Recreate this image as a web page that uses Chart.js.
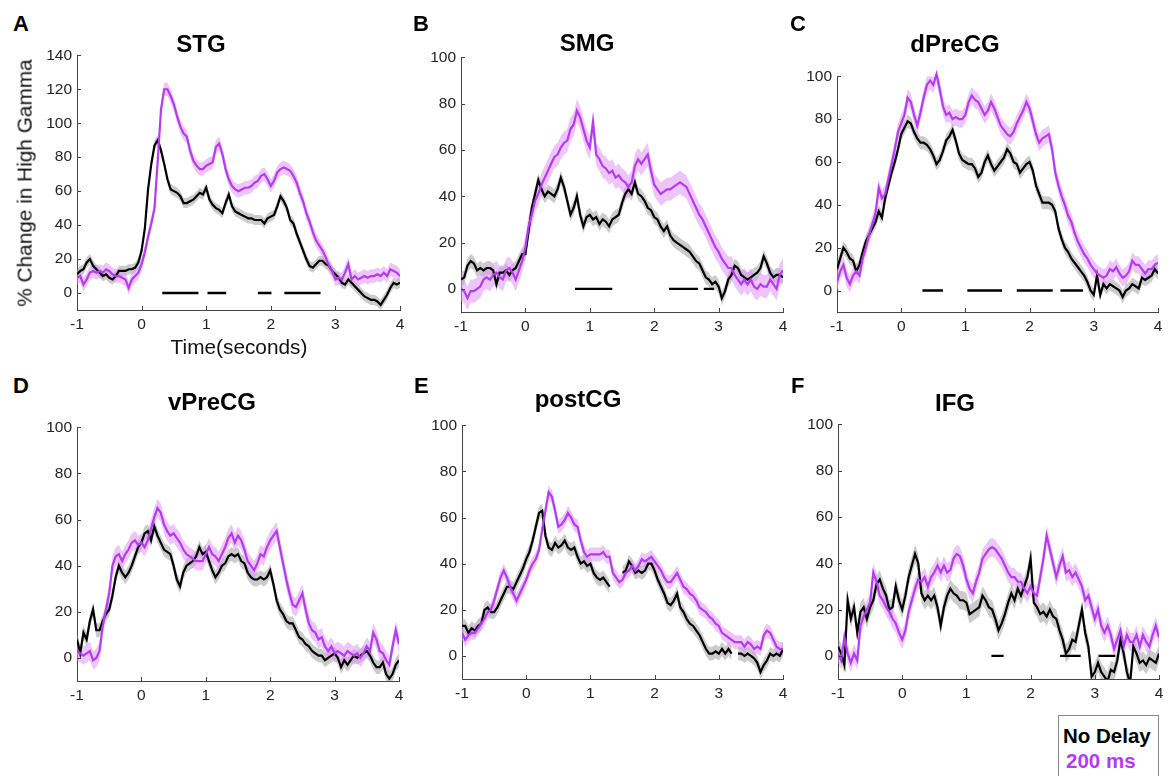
<!DOCTYPE html>
<html><head><meta charset="utf-8">
<script src="https://cdn.jsdelivr.net/npm/chart.js@4/dist/chart.umd.min.js"></script>
<style>
html,body{margin:0;padding:0;background:#fff;}
body{width:1175px;height:776px;position:relative;overflow:hidden;font-family:"Liberation Sans",Arial,Helvetica,sans-serif;color:#000;}
canvas{position:absolute;}
.t{position:absolute;white-space:nowrap;line-height:1;}
.letter{font-weight:bold;font-size:22px;}
.ptitle{font-weight:bold;font-size:24px;transform:translate(-50%,-50%);}
.axt{font-size:20.8px;color:#111;transform:translate(-50%,-50%);}
#legend{position:absolute;left:1058px;top:715px;width:99px;height:70px;border:1.5px solid #888;background:#fff;}
</style></head><body>
<script>
// ---------- DATA ----------
const time = [-1,-0.95,-0.9,-0.85,-0.8,-0.75,-0.7,-0.65,-0.6,-0.55,-0.5,-0.45,-0.4,-0.35,-0.3,-0.25,-0.2,-0.15,-0.1,-0.05,0,0.05,0.1,0.15,0.2,0.25,0.3,0.35,0.4,0.45,0.5,0.55,0.6,0.65,0.7,0.75,0.8,0.85,0.9,0.95,1,1.05,1.1,1.15,1.2,1.25,1.3,1.35,1.4,1.45,1.5,1.55,1.6,1.65,1.7,1.75,1.8,1.85,1.9,1.95,2,2.05,2.1,2.15,2.2,2.25,2.3,2.35,2.4,2.45,2.5,2.55,2.6,2.65,2.7,2.75,2.8,2.85,2.9,2.95,3,3.05,3.1,3.15,3.2,3.25,3.3,3.35,3.4,3.45,3.5,3.55,3.6,3.65,3.7,3.75,3.8,3.85,3.9,3.95,4];

const stgNoDelay = [11,13,14,18,20,16,14,12,10,11, 9,8,10,13,13,13,14,14,15,18, 25,38,61,76,87,90,84,76,67,61, 60,59,57,53,53,54,55,57,59,58, 62,55,52,50,49,47,53,58,51,48, 47,46,45,44,44,43,43,43,41,44, 45,46,51,57,54,50,43,41,35,30, 25,20,16,15,17,19,19,17,16,13, 11,9,6,5,8,6,4,2,0,-2, -3,-4,-4,-5,-7,-4,-1,3,6,5, 6];
const stg200 = [9,10,5,8,12,13,12,13,12,14, 13,11,10,10,9,8,3,8,10,12, 17,24,33,41,50,78,108,120,120,116, 111,104,98,94,92,84,78,75,73,73, 75,76,77,86,88,82,73,67,63,61, 60,61,62,62,63,65,66,69,70,67, 63,66,71,73,74,73,72,69,65,59, 54,47,42,36,31,28,25,21,16,13, 8,9,8,12,17,8,10,8,9,10, 9,10,10,11,10,12,10,14,13,12, 10];
const stgSig = [[0.32,0.88],[1.02,1.31],[1.80,2.01],[2.21,2.77]];

const smgNoDelay = [4,5,10,12,11,8,9,8,9,9, 8,2,7,7,8,6,8,9,12,15, 15,25,35,41,47,43,40,42,41,40, 43,48,44,38,32,35,40,32,27,31, 32,30,31,28,30,29,27,30,31,32, 37,41,43,41,46,41,40,38,35,34, 31,30,27,25,27,23,21,20,19,18, 17,16,14,12,11,8,5,4,2,3, 1,-4,-1,4,6,10,9,6,5,4, 5,6,7,9,14,11,7,5,6,6, 5];
const smg200 = [0,-1,-4,-1,-1,0,1,4,5,4, 6,7,5,4,8,9,7,4,8,12, 18,27,32,38,41,45,48,51,54,57, 58,61,63,64,69,71,77,74,69,64, 61,72,58,56,53,52,50,51,48,49, 47,46,44,46,53,56,54,56,58,51, 45,43,41,42,43,43,44,45,46,45, 44,41,38,35,32,30,27,24,21,18, 16,13,11,9,9,6,4,2,4,2, 4,1,0,2,1,1,4,2,0,6, 8];
const smgSig = [[0.77,1.35],[2.23,2.68],[2.77,2.93]];

const dprecgNoDelay = [10,15,20,18,15,14,9,12,18,23, 26,29,32,37,34,43,49,55,60,66, 73,76,79,78,74,71,69,69,68,66, 63,59,61,65,70,72,75,70,64,61, 60,59,59,57,53,55,60,63,59,56, 58,60,62,66,64,60,59,55,57,59, 60,56,49,45,41,41,41,40,37,29, 24,20,18,15,13,11,9,7,4,0, -2,7,-2,3,1,3,2,1,0,-3, 0,1,3,2,1,6,5,6,7,10, 8];
const dprecg200 = [4,9,12,6,3,7,9,7,15,20, 26,31,36,48,43,45,52,59,66,74, 78,82,90,88,82,77,83,90,96,98, 96,101,94,86,82,83,80,81,80,80, 82,88,91,89,88,85,82,84,88,85, 81,77,75,73,72,74,78,81,84,88, 85,79,73,69,71,72,73,66,55,49, 44,40,35,32,27,23,20,17,15,12, 10,8,7,6,7,10,9,11,8,6, 7,9,14,12,12,10,8,10,10,12, 13];
const dprecgSig = [[0.33,0.65],[1.03,1.57],[1.80,2.36],[2.48,2.83]];

const vprecgNoDelay = [8,2,11,8,16,21,12,12,16,19, 21,27,35,40,37,35,37,40,44,48, 50,54,55,51,57,53,50,47,46,45, 40,34,31,37,40,41,42,44,48,45, 46,42,38,35,37,40,41,44,45,44, 45,42,41,37,35,34,34,35,34,35, 38,32,25,21,19,16,15,15,12,9, 8,6,5,3,2,1,1,-1,0,1, 2,0,-4,-1,-3,-1,1,0,1,2, 3,1,-2,-4,-4,-2,-7,-9,-7,-3, -1];
const vprecg200 = [3,2,1,2,3,-1,0,3,14,21, 28,40,44,45,42,45,47,50,51,49, 50,48,51,56,61,65,63,58,55,53, 54,52,50,47,45,44,43,42,42,42, 45,48,45,44,42,45,48,52,54,50, 53,51,47,42,40,38,41,45,44,48, 51,53,55,48,41,34,28,23,22,25, 28,21,15,12,11,8,9,5,3,5, 2,3,2,1,3,2,1,2,0,2, 5,3,11,8,3,2,-1,-3,5,12, 6];
const vprecgSig = [];

const postcgNoDelay = [13,13,10,12,11,13,14,20,21,19, 19,21,24,27,30,30,29,32,35,38, 42,45,50,56,62,63,52,47,46,49, 47,48,50,47,46,47,43,40,41,39, 40,36,34,33,34,32,30,null,null,null, 36,37,41,39,36,37,36,37,40,40, 37,33,30,27,23,22,24,27,21,19, 16,14,13,11,9,6,3,1,1,2, 1,3,1,3,1,null,1,1,0,1, 0,-1,-3,-7,-4,-2,1,0,1,0, 3];
const postcg200 = [10,7,9,10,10,12,14,16,19,20, 24,29,34,37,34,30,27,24,27,30, 33,37,40,42,46,55,63,71,69,63, 56,57,59,62,60,57,56,50,45,43, 44,44,44,44,45,43,43,36,34,32, 33,36,37,39,37,39,42,41,42,43, 41,39,37,34,32,32,34,36,33,30, 29,27,26,24,21,20,19,17,16,14, 13,10,9,8,7,6,6,6,4,6, 5,3,4,3,9,11,10,7,4,3, 3];
const postcgSig = [];

const ifgNoDelay = [4,1,-4,24,16,21,10,19,21,16, 21,24,31,33,29,26,20,21,30,24, 20,26,34,39,44,40,27,24,26,24, 26,21,13,21,26,29,27,26,24,24, 23,18,19,20,21,26,24,21,20,16, 11,14,18,23,27,24,29,26,30,34, 42,23,21,18,19,17,20,17,16,11, 7,1,3,7,6,13,20,10,4,-9, -7,-3,-7,-9,-11,-6,-7,-2,7,1, -7,-12,4,1,-3,-2,-4,-1,-2,-3, 1];
const ifg200 = [1,-2,8,1,-3,1,-2,13,17,20, 23,36,32,26,24,21,19,16,14,10, 7,11,19,24,29,33,32,34,30,34, 36,39,36,39,36,37,42,44,43,39, 33,29,27,32,36,42,44,46,47,46, 44,42,39,36,34,34,32,32,29,27, 30,27,26,34,42,52,46,40,34,39, 43,36,37,34,36,33,30,24,26,21, 16,20,13,10,13,9,3,7,11,4, 9,6,6,9,4,9,6,4,9,13, 8];
const ifgSig = [[1.39,1.58],[2.46,2.78],[3.06,3.32]];

const xTickValues = [-1,0,1,2,3,4];
const yTicksSTG = [0,20,40,60,80,100,120,140];
const yTicks100 = [0,20,40,60,80,100];
// standard-error half widths (No Delay, 200 ms) per panel A..F
const semNoDelay = [3,3,3,3,3,4];
const sem200 = [4,5,4,4,3,4];

// ---------- STYLE / LAYOUT ----------
const BLACK = '#000000';
const MAG = '#b43cf0';
const BAND_BLACK = 'rgba(140,140,140,0.45)';
const BAND_MAG = 'rgba(222,150,245,0.55)';
const YW = 50, XH = 36, PT = 14, PR = 14;
const TICK_FONT = {size:15.5, family:'"Liberation Sans", Arial, sans-serif'};

const panels = [
  {letter:'A', title:'STG',    nd:stgNoDelay,    d2:stg200,    sig:stgSig,    yt:yTicksSTG, ymax:140, l:77,  r:400,  t:55,  b:310, lx:13,  ly:13,  tx:201, ty:44},
  {letter:'B', title:'SMG',    nd:smgNoDelay,    d2:smg200,    sig:smgSig,    yt:yTicks100, ymax:100, l:461, r:783,  t:57,  b:312, lx:413, ly:13,  tx:587, ty:43},
  {letter:'C', title:'dPreCG', nd:dprecgNoDelay, d2:dprecg200, sig:dprecgSig, yt:yTicks100, ymax:100, l:837, r:1158, t:76,  b:312, lx:790, ly:13,  tx:955, ty:44},
  {letter:'D', title:'vPreCG', nd:vprecgNoDelay, d2:vprecg200, sig:vprecgSig, yt:yTicks100, ymax:100, l:77,  r:399,  t:427, b:681, lx:13,  ly:375, tx:212, ty:402},
  {letter:'E', title:'postCG', nd:postcgNoDelay, d2:postcg200, sig:postcgSig, yt:yTicks100, ymax:100, l:462, r:783,  t:425, b:679, lx:414, ly:375, tx:578, ty:399},
  {letter:'F', title:'IFG',    nd:ifgNoDelay,    d2:ifg200,    sig:ifgSig,    yt:yTicks100, ymax:100, l:838, r:1159, t:424, b:679, lx:791, ly:375, tx:955, ty:403}
];

const inwardTicks = {
  id:'inwardTicks',
  afterDraw(chart){
    const {ctx, chartArea:a, scales:{x, y}} = chart;
    ctx.save();
    ctx.strokeStyle = '#444'; ctx.lineWidth = 1;
    ctx.beginPath();
    x.ticks.forEach(t => { const px = Math.round(x.getPixelForValue(t.value)) + 0.5; ctx.moveTo(px, a.bottom); ctx.lineTo(px, a.bottom - 4); });
    y.ticks.forEach(t => { const py = Math.round(y.getPixelForValue(t.value)) + 0.5; ctx.moveTo(a.left, py); ctx.lineTo(a.left + 4, py); });
    ctx.stroke();
    ctx.restore();
  }
};

function addText(cls, txt, x, y, extra){
  const d = document.createElement('div');
  d.className = 't ' + cls;
  d.textContent = txt;
  d.style.left = x + 'px'; d.style.top = y + 'px';
  if (extra) Object.assign(d.style, extra);
  document.body.appendChild(d);
}

panels.forEach((p, idx) => {
  const cv = document.createElement('canvas');
  const W = p.r - p.l + YW + PR, H = p.b - p.t + PT + XH;
  cv.width = W; cv.height = H;
  cv.style.left = (p.l - YW) + 'px'; cv.style.top = (p.t - PT) + 'px';
  cv.style.width = W + 'px'; cv.style.height = H + 'px';
  document.body.appendChild(cv);

  const pts = arr => time.map((t, i) => ({x:t, y:arr[i]}));
  const band = (arr, s) => time.map((t, i) => ({x:t, y:arr[i] == null ? null : arr[i] + s}));
  const sigData = [];
  p.sig.forEach(([a, b]) => { sigData.push({x:a, y:0}, {x:b, y:0}, {x:b + 0.001, y:null}); });
  const CLIP = {left:0, top:12, right:0, bottom:0};

  const bandDs = (data, color, fill, order) => ({data, borderColor:'transparent', borderWidth:0, backgroundColor:color, fill, pointRadius:0, order, clip:CLIP});
  new Chart(cv, {
    type:'line',
    data:{datasets:[
      bandDs(band(p.nd, -semNoDelay[idx]), BAND_BLACK, false, 6),
      bandDs(band(p.nd, semNoDelay[idx]), BAND_BLACK, '-1', 5),
      bandDs(band(p.d2, -sem200[idx]), BAND_MAG, false, 4),
      bandDs(band(p.d2, sem200[idx]), BAND_MAG, '-1', 3),
      {label:'No Delay', data:pts(p.nd), borderColor:BLACK, borderWidth:2.2, pointRadius:0, fill:false, order:2, clip:CLIP},
      {label:'200 ms', data:pts(p.d2), borderColor:MAG, borderWidth:2.2, pointRadius:0, fill:false, order:1, clip:CLIP},
      {label:'sig', data:sigData, borderColor:BLACK, borderWidth:2.4, pointRadius:0, fill:false, order:0}
    ]},
    options:{
      responsive:false, animation:false, devicePixelRatio:1,
      spanGaps:false,
      layout:{padding:{left:0, top:PT, right:PR, bottom:0}},
      plugins:{legend:{display:false}, tooltip:{enabled:false}, title:{display:false}},
      elements:{line:{tension:0}, point:{radius:0}},
      scales:{
        x:{type:'linear', min:-1, max:4,
           afterBuildTicks:s => { s.ticks = xTickValues.map(v => ({value:v})); },
           afterFit:s => { s.height = XH; },
           grid:{display:false, drawTicks:false},
           border:{display:true, color:'#444', width:1},
           ticks:{padding:5, color:'#222', autoSkip:false, maxRotation:0, font:TICK_FONT}},
        y:{type:'linear', min:-10, max:p.ymax,
           afterBuildTicks:s => { s.ticks = p.yt.map(v => ({value:v})); },
           afterFit:s => { s.width = YW; },
           grid:{display:false, drawTicks:false},
           border:{display:true, color:'#444', width:1},
           ticks:{padding:5, color:'#222', font:TICK_FONT}}
      }
    },
    plugins:[inwardTicks]
  });

  addText('letter', p.letter, p.lx, p.ly);
  addText('ptitle', p.title, p.tx, p.ty);
});

addText('axt', '% Change in High Gamma', 25, 183, {transform:'translate(-50%,-50%) rotate(-90deg)'});
addText('axt', 'Time(seconds)', 239, 347);

const lg = document.createElement('div');
lg.id = 'legend';
lg.innerHTML = '<div class="t" style="left:4px;top:10px;font-weight:bold;font-size:20.5px;color:#000">No Delay</div>' +
               '<div class="t" style="left:7px;top:35px;font-weight:bold;font-size:20.5px;color:' + MAG + '">200 ms</div>';
document.body.appendChild(lg);
</script>
</body></html>
